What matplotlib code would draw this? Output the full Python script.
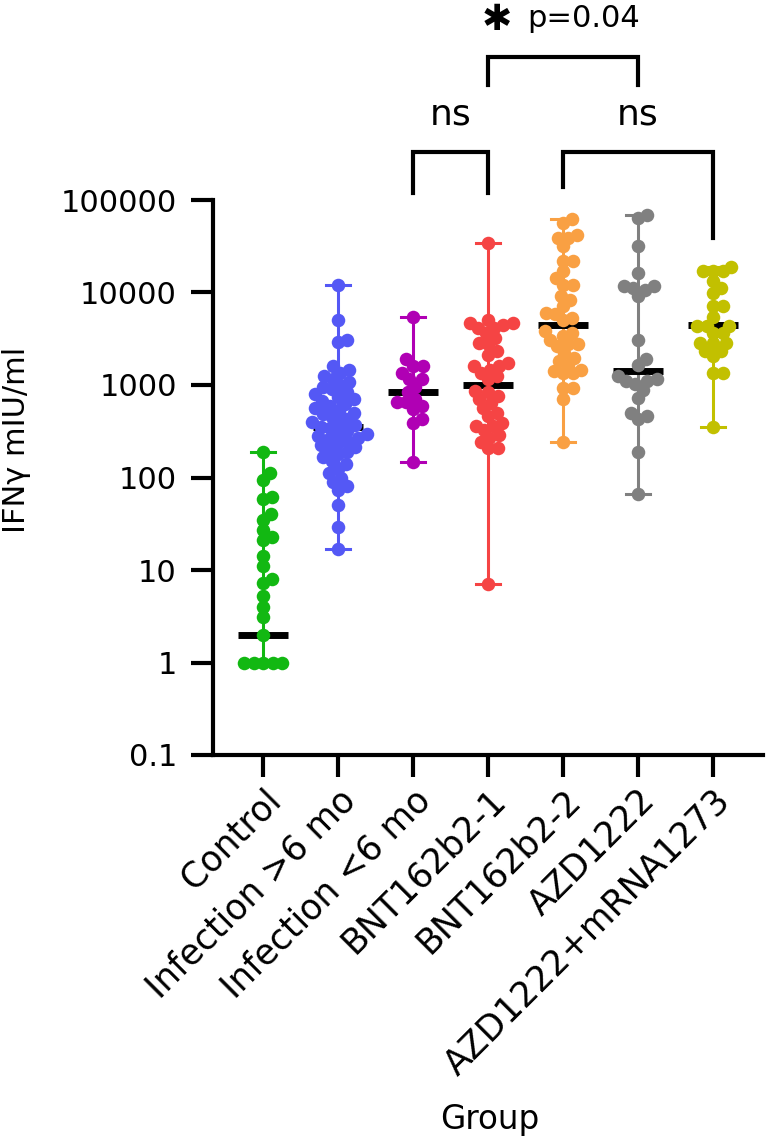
import matplotlib
matplotlib.use("Agg")
import matplotlib.pyplot as plt
import numpy as np

plt.rcParams['font.family'] = ['DejaVu Sans']

groups = ['Control', 'Infection >6 mo', 'Infection <6 mo', 'BNT162b2-1',
          'BNT162b2-2', 'AZD1222', 'AZD1222+mRNA1273']
colors = ['#12B812', '#5458F5', '#B000B4', '#F54444', '#F9A043', '#808080', '#C2C000']

control = [190, 112, 95, 62, 58, 40, 35, 27, 23, 21, 14, 11, 8, 7.3, 5.2, 4, 3.1,
           2.0, 1, 1, 1, 1, 1]
inf_old = [12000, 5100, 3100, 2950, 1600, 1450, 1350, 1250, 1150, 1080, 1000, 950,
           900, 830, 790, 750, 700, 670, 630, 600, 560, 530, 500, 480, 450, 430,
           400, 380, 365, 355, 340, 320, 300, 295, 280, 270, 260, 250, 235, 225,
           215, 200, 190, 180, 165, 150, 140, 125, 112, 100, 90, 80, 74, 50, 29, 17]
inf_new = [5400, 1900, 1600, 1600, 1350, 1150, 1150, 960, 830, 710, 650, 650, 600,
           550, 425, 390, 148]
bnt1 = [34000, 5100, 4700, 4700, 4500, 4150, 4150, 3650, 3250, 2850, 2750, 2330,
        2130, 1740, 1600, 1600, 1470, 1350, 1250, 1150, 860, 830, 760, 700, 640,
        565, 500, 460, 390, 360, 360, 330, 290, 270, 245, 210, 210, 7]
bnt2 = [62000, 57000, 42000, 39000, 39000, 32000, 22000, 22000, 17000, 14400,
        12200, 12200, 9100, 8400, 7100, 6000, 5800, 5300, 5100, 3800, 3650, 3380,
        3100, 2750, 2750, 2630, 2230, 1960, 1820, 1660, 1470, 1410, 1350, 1350,
        930, 930, 700, 245]
azd = [68000, 64000, 32000, 16300, 11700, 11700, 11200, 10700, 9100, 3100, 1900,
       1660, 1250, 1150, 1100, 1100, 1020, 890, 730, 500, 460, 425, 190, 66]
azd_mrna = [19000, 17000, 17000, 17000, 13200, 11200, 10000, 7100, 7100, 5500,
            4350, 4350, 4350, 3650, 3650, 2850, 2850, 2850, 2330, 2330, 2050,
            1350, 1350, 355]
data = [control, inf_old, inf_new, bnt1, bnt2, azd, azd_mrna]
medians = [2, 355, 830, 1000, 4400, 1420, 4400]

yticks = [0.1, 1, 10, 100, 1000, 10000, 100000]
ytick_labels = ['0.1', '1', '10', '100', '1000', '10000', '100000']

W, H = 769, 1148
fig = plt.figure(figsize=(W / 100, H / 100), dpi=100)
ax = fig.add_axes([213 / W, 1 - 755 / H, 550 / W, 555 / H])
ax.set_yscale('log')
ax.set_ylim(0.1, 100000)
ax.set_xlim(-50 / 75, 6 + 50 / 75)

for s in ['top', 'right']:
    ax.spines[s].set_visible(False)
for s in ['left', 'bottom']:
    ax.spines[s].set_linewidth(3)
ax.tick_params(axis='both', length=16, width=3)
ax.tick_params(axis='y', labelsize=22, pad=10)
ax.tick_params(axis='x', labelsize=25, pad=4)
ax.minorticks_off()
ax.set_yticks(yticks)
ax.set_yticklabels(ytick_labels)
ax.set_xticks(range(len(groups)))
ax.set_xticklabels(groups, rotation=45, ha='right', va='top', rotation_mode='anchor')


def swarm(xc, vals, d):
    # simple beeswarm in pixel space
    pts = ax.transData.transform(np.column_stack([np.full(len(vals), xc), vals]))
    ys = pts[:, 1]
    x0 = pts[0, 0]
    offs = np.zeros(len(vals))
    placed = []
    for i in np.argsort(ys, kind='stable'):
        y = ys[i]
        cands = [0.0]
        for px, py in placed:
            dy = y - py
            if abs(dy) < d:
                dx = np.sqrt(d * d - dy * dy)
                cands += [px + dx, px - dx]
        cands.sort(key=abs)
        for c in cands:
            if all((c - px) ** 2 + (y - py) ** 2 >= d * d - 1e-6 for px, py in placed):
                offs[i] = c
                placed.append((c, y))
                break
    back = ax.transData.inverted().transform(np.column_stack([x0 + offs, ys]))
    return back[:, 0], back[:, 1]


for i, (vals, col) in enumerate(zip(data, colors)):
    lo, hi = min(vals), max(vals)
    ax.plot([i, i], [lo, hi], color=col, lw=2.2, zorder=1, solid_capstyle='butt')
    ax.plot([i - 0.16, i + 0.16], [lo, lo], color=col, lw=2.2, zorder=1)
    ax.plot([i - 0.16, i + 0.16], [hi, hi], color=col, lw=2.2, zorder=1)
    ax.plot([i - 0.33, i + 0.33], [medians[i], medians[i]], color='black', lw=5,
            solid_capstyle='butt', zorder=2)
    xs, ys = swarm(i, vals, 9.5)
    ax.scatter(xs, ys, s=95, color=col, linewidths=0, zorder=3, clip_on=False)


def bracket(x1, x2, top, leg1, leg2):
    ax.plot([x1, x1, x2, x2], [10 ** leg1, 10 ** top, 10 ** top, 10 ** leg2],
            color='black', lw=3, clip_on=False, solid_joinstyle='miter')


bracket(2, 3, 5.52, 5.076, 5.076)
bracket(4, 6, 5.52, 5.14, 4.59)
bracket(3, 5, 6.546, 6.243, 6.243)
ax.text(2.5, 10 ** 5.92, 'ns', ha='center', va='center', fontsize=26)
ax.text(5, 10 ** 5.92, 'ns', ha='center', va='center', fontsize=26)
ax.text(3.12, 10 ** 6.95, '\u2731', ha='center', va='center', fontsize=26)
ax.text(3.53, 10 ** 6.96, 'p=0.04', ha='left', va='center', fontsize=22)

fig.text(17 / W, 1 - 440 / H, 'IFN\u03b3 mIU/ml', rotation=90, ha='center',
         va='center', fontsize=22)
fig.text(490 / W, 1 - 1120 / H, 'Group', ha='center', va='center', fontsize=23.5)

fig.savefig('out.png', dpi=100)
